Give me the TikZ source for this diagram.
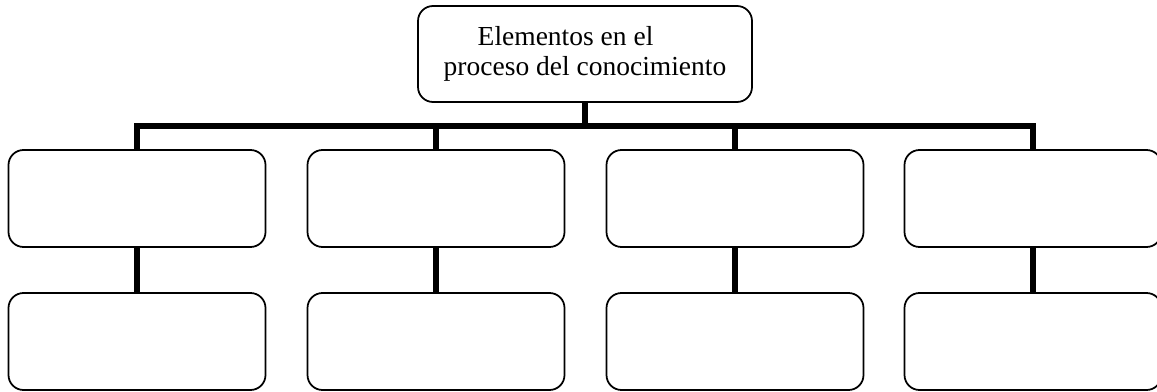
\documentclass[tikz,border=0pt]{standalone}
\usepackage{fontspec}
\setmainfont{Liberation Serif}
\begin{document}
\begin{tikzpicture}[x=0.4pt,y=-0.4pt]
        \tikzstyle{box}=[draw=black,line width=0.7pt,rounded corners=6pt,minimum width=102.8pt,minimum height=38.8pt,inner sep=0pt]
        \tikzstyle{title}=[box,minimum width=133.6pt,minimum height=38.4pt,font=\fontsize{11}{12}\selectfont,align=left]
        \tikzstyle{link}=[draw,line width=2.3pt]
        \useasboundingbox (0,0) rectangle (1157,392);
        \begin{scope}
           \node [title] (top) at (585,54) {\hspace*{13.6pt}Elementos en el\\proceso del conocimiento};
           \node [box] (a1) at (137,198.5) {};
           \node [box] (a2) at (436,198.5) {};
           \node [box] (a3) at (735,198.5) {};
           \node [box] (a4) at (1033,198.5) {};
           \node [box] (b1) at (137,341.5) {};
           \node [box] (b2) at (436,341.5) {};
           \node [box] (b3) at (735,341.5) {};
           \node [box] (b4) at (1033,341.5) {};
           \coordinate (bar) at (585,126);
           \path[link] (top.south) -- (bar);
           \path[link] (bar) -| (a1.north);
           \path[link] (bar) -| (a2.north);
           \path[link] (bar) -| (a3.north);
           \path[link] (bar) -| (a4.north);
           \path[link] (a1) -- (b1);
           \path[link] (a2) -- (b2);
           \path[link] (a3) -- (b3);
           \path[link] (a4) -- (b4);
        \end{scope}
\end{tikzpicture}
\end{document}
